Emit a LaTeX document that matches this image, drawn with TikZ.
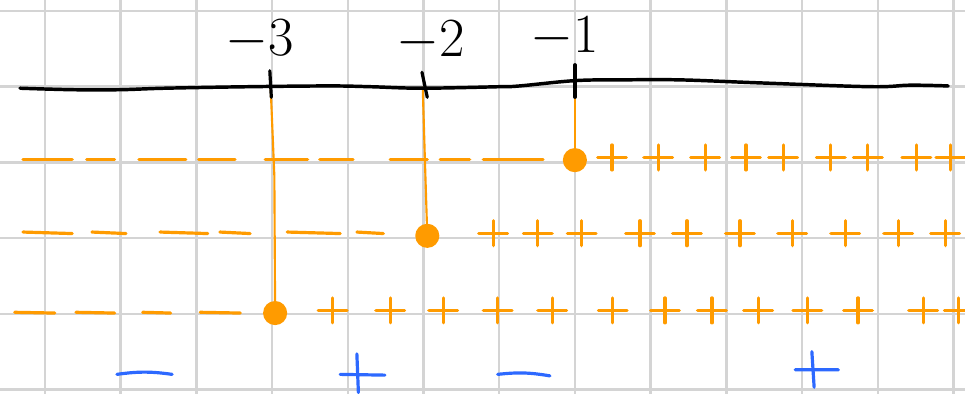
\documentclass[tikz,border=0pt]{standalone}
\usepackage{tikz}
\usetikzlibrary{calc}

\definecolor{gridGray}{RGB}{212,212,212}
\definecolor{signOrange}{RGB}{255,155,0}
\definecolor{signBlue}{RGB}{45,105,255}

\begin{document}
\begin{tikzpicture}[
  line cap=round, line join=round,
  gridLine/.style={draw=gridGray, line width=0.9pt},
  axisLine/.style={draw=black, line width=1.3pt},
  tickLine/.style={draw=black, line width=1.2pt},
  numLabel/.style={inner sep=0pt, font=\fontsize{20}{24}\selectfont},
  orangeMark/.style={draw=signOrange, line width=1.2pt},
  orangeThin/.style={draw=signOrange, line width=0.8pt},
  blueMark/.style={draw=signBlue, line width=1.2pt},
  rootDot/.style={circle, draw=signOrange, fill=signOrange, line width=0.8pt,
    inner sep=0pt, outer sep=0pt, minimum size=0.29cm}
]
\useasboundingbox (-0.594,-0.059) rectangle (12.153,5.145);

% squared paper
\draw[gridLine, step=1cm] (-0.7,-0.2) grid (12.3,5.3);

% roots on the number line
\coordinate (tickA) at (2.98,4.02);
\coordinate (tickB) at (4.99,3.99);
\coordinate (tickC) at (7.00,4.07);

\node[numLabel] (labA) at (2.84,4.62) {$-3$};
\node[numLabel] (labB) at (5.10,4.60) {$-2$};
\node[numLabel] (labC) at (6.87,4.66) {$-1$};

\node[rootDot] (dotA) at (3.04,1.01) {};
\node[rootDot] (dotB) at (5.05,2.03) {};
\node[rootDot] (dotC) at (7.00,3.03) {};

\draw[orangeThin] (tickA) -- ++(0.05,-1.2) -- (dotA);
\draw[orangeThin] (tickB) -- ++(0.03,-1.0) -- (dotB);
\draw[orangeThin] (tickC) -- (dotC);

% number line
\draw[axisLine] plot[smooth, tension=0.6] coordinates {
  (-0.33,3.98) (0.37,3.96) (0.99,3.96) (1.59,3.98) (2.71,4.0) (3.76,4.01)
  (4.29,4.0) (4.98,3.98) (6.01,4.0) (6.27,4.01) (7.0,4.08) (7.6,4.09)
  (8.39,4.09) (9.45,4.05) (10.9,4.0) (11.43,4.02) (11.93,4.01)};
\draw[tickLine] (2.97,4.21) -- (2.99,3.86);
\draw[tickLine] (4.98,4.19) -- (5.05,3.86);
\draw[tickLine] (7.00,4.29) -- (7.00,3.86);

% factor x+1
\foreach \a/\b in {-0.29/0.36, 0.55/0.92, 1.24/1.86, 2.03/2.51, 2.91/3.47,
                   3.63/4.07, 4.56/5.05, 5.22/5.61, 5.79/6.58}
  \draw[orangeMark] (\a,3.04) -- (\b,3.04);
\foreach \x in {7.49, 8.10, 8.72, 9.26, 9.75, 10.38, 10.87, 11.51, 11.96}
  \draw[orangeMark] (\x-0.19,3.06) -- (\x+0.19,3.06) (\x,3.23) -- (\x,2.90);

% factor x+2
\foreach \a/\b in {-0.29/0.36, 0.62/1.07, 1.52/2.15, 2.31/2.71, 3.20/3.90, 4.12/4.47}
  \draw[orangeMark] (\a,2.08) -- (\b,2.06);
\foreach \x in {5.92, 6.51, 7.09, 7.86, 8.48, 9.18, 9.87, 10.57, 11.27, 11.89}
  \draw[orangeMark] (\x-0.19,2.06) -- (\x+0.19,2.06) (\x,2.23) -- (\x,1.90);

% factor x+3
\foreach \a/\b in {-0.40/0.13, 0.41/0.92, 1.29/1.66, 2.05/2.58}
  \draw[orangeMark] (\a,1.02) -- (\b,1.01);
\foreach \x in {3.80, 4.56, 5.26, 5.98, 6.70, 7.50, 8.19, 8.81, 9.42, 10.07, 10.74, 11.60, 12.07}
  \draw[orangeMark] (\x-0.19,1.04) -- (\x+0.19,1.04) (\x,1.21) -- (\x,0.88);

% resulting signs
\draw[blueMark] (0.95,0.20) to[bend left=8] (1.68,0.20);
\draw[blueMark] (3.90,0.20) -- (4.49,0.19) (4.12,0.47) -- (4.14,-0.04);
\draw[blueMark] (5.98,0.20) to[bend left=8] (6.67,0.18);
\draw[blueMark] (9.91,0.26) -- (10.48,0.26) (10.13,0.50) -- (10.16,0.03);
\end{tikzpicture}
\end{document}
